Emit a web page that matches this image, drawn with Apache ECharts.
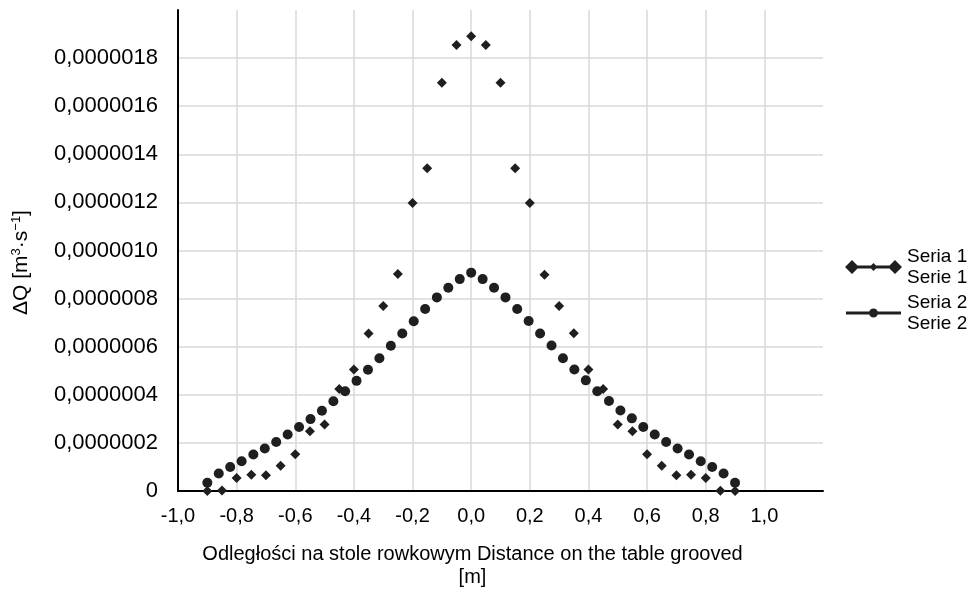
<!DOCTYPE html>
<html>
<head>
<meta charset="utf-8">
<script src="https://cdn.jsdelivr.net/npm/echarts@6/dist/echarts.min.js"></script>
<style>
    html, body { margin: 0; padding: 0; background: #fff; }
    #myCharts { width: 972px; height: 598px; }
</style>
</head>
<body>
<div id="myCharts"></div>
<script>
// Seria 1 / Serie 1 - diamonds
var xSeria1 = [-0.9, -0.85, -0.8, -0.75, -0.7, -0.65, -0.6, -0.55, -0.5, -0.45, -0.4, -0.35, -0.3, -0.25, -0.2, -0.15, -0.1, -0.05, 0,
    0.05, 0.1, 0.15, 0.2, 0.25, 0.3, 0.35, 0.4, 0.45, 0.5, 0.55, 0.6, 0.65, 0.7, 0.75, 0.8, 0.85, 0.9];
var ySeria1 = [0, 0.02e-7, 0.54e-7, 0.68e-7, 0.65e-7, 1.05e-7, 1.53e-7, 2.48e-7, 2.76e-7, 4.24e-7, 5.05e-7, 6.55e-7, 7.69e-7, 9.02e-7, 11.97e-7, 13.42e-7, 16.98e-7, 18.54e-7, 18.91e-7,
    18.54e-7, 16.98e-7, 13.42e-7, 11.97e-7, 8.99e-7, 7.69e-7, 6.56e-7, 5.05e-7, 4.24e-7, 2.76e-7, 2.48e-7, 1.53e-7, 1.05e-7, 0.65e-7, 0.68e-7, 0.54e-7, 0.01e-7, 0];

// Seria 2 / Serie 2 - circles
var xSeria2 = [-0.9, -0.861, -0.822, -0.783, -0.743, -0.704, -0.665, -0.626, -0.587, -0.548, -0.509, -0.47, -0.43, -0.391, -0.352, -0.313, -0.274, -0.235, -0.196, -0.157, -0.117, -0.078, -0.039, 0,
    0.039, 0.078, 0.117, 0.157, 0.196, 0.235, 0.274, 0.313, 0.352, 0.391, 0.43, 0.47, 0.509, 0.548, 0.587, 0.626, 0.665, 0.704, 0.743, 0.783, 0.822, 0.861, 0.9];
var ySeria2 = [0.34e-7, 0.73e-7, 1.0e-7, 1.24e-7, 1.52e-7, 1.77e-7, 2.04e-7, 2.35e-7, 2.66e-7, 2.99e-7, 3.34e-7, 3.73e-7, 4.15e-7, 4.58e-7, 5.04e-7, 5.52e-7, 6.04e-7, 6.55e-7, 7.06e-7, 7.57e-7, 8.05e-7, 8.45e-7, 8.81e-7, 9.08e-7,
    8.81e-7, 8.45e-7, 8.05e-7, 7.57e-7, 7.07e-7, 6.55e-7, 6.05e-7, 5.52e-7, 5.05e-7, 4.6e-7, 4.15e-7, 3.74e-7, 3.35e-7, 3.02e-7, 2.66e-7, 2.35e-7, 2.04e-7, 1.77e-7, 1.52e-7, 1.24e-7, 1.0e-7, 0.73e-7, 0.34e-7];

var seriesNames = ['Seria 1\nSerie 1', 'Seria 2\nSerie 2'];
var xTicks = { min: -1.0, max: 1.2, interval: 0.2 };
var yTicks = { min: 0, max: 0.000002, interval: 0.0000002 };

function pairs(xs, ys) {
    var out = [];
    for (var i = 0; i < xs.length; i++) {
        out.push([xs[i], ys[i]]);
    }
    return out;
}

var font = 'Liberation Sans, Arial, sans-serif';
var ink = '#1f1f1f';

// legend icons: line with diamonds / line with circle
var icon1 = 'path://M0,7 L7,0 L14,7 L7,14 Z M7,5.5 L50,5.5 L50,8.5 L7,8.5 Z M24.5,7 L28.5,3 L32.5,7 L28.5,11 Z M43,7 L50,0 L57,7 L50,14 Z';
var icon2 = 'path://M0,0 L0,0 Z M1,5.5 L56,5.5 L56,8.5 L1,8.5 Z M24,7 A4.5,4.5 0 1,1 33,7 A4.5,4.5 0 1,1 24,7 Z M57,14 L57,14 Z';

var myChart = echarts.init(document.getElementById('myCharts'));
var option = {
    animation: false,
    backgroundColor: '#ffffff',
    textStyle: { fontFamily: font },
    grid: { left: 178, top: 10, right: 149, bottom: 107, containLabel: false },
    legend: {
        orient: 'vertical',
        left: 845,
        top: 246,
        padding: 0,
        itemWidth: 57,
        itemHeight: 14,
        itemGap: 4,
        textStyle: { fontSize: 19, lineHeight: 21, color: '#000', fontFamily: font },
        data: [
            { name: seriesNames[0], icon: icon1 },
            { name: seriesNames[1], icon: icon2 }
        ]
    },
    xAxis: {
        type: 'value',
        min: xTicks.min,
        max: xTicks.max,
        interval: xTicks.interval,
        name: 'Odległości na stole rowkowym Distance on the table grooved\n[m]',
        nameLocation: 'middle',
        nameGap: 52,
        nameMoveOverlap: false,
        nameTextStyle: { fontSize: 20, lineHeight: 23, color: '#000', padding: [0, 56, 0, 0] },
        axisLine: { show: true, onZero: false, lineStyle: { color: '#000', width: 2 } },
        axisTick: { show: false },
        axisLabel: {
            fontSize: 20, color: '#000', margin: 15, showMaxLabel: false,
            formatter: function (v) { return v.toFixed(1).replace('.', ','); }
        },
        splitLine: { show: true, showMaxLine: false, lineStyle: { color: '#d9d9d9', width: 1.5 } }
    },
    yAxis: {
        type: 'value',
        min: yTicks.min,
        max: yTicks.max,
        interval: yTicks.interval,
        name: '{a|ΔQ [m}{s|3}{a|·s}{s|−1}{a|]}',
        nameLocation: 'middle',
        nameRotate: 90,
        nameGap: 146,
        nameTextStyle: {
            color: '#000',
            padding: [0, 24, 0, 0],
            rich: {
                a: { fontSize: 21, lineHeight: 22, color: '#000', fontFamily: font },
                s: { fontSize: 13, lineHeight: 14, color: '#000', fontFamily: font, verticalAlign: 'top' }
            }
        },
        axisLine: { show: true, onZero: false, lineStyle: { color: '#000', width: 2 } },
        axisTick: { show: false },
        axisLabel: {
            fontSize: 22, color: '#000', margin: 20, showMaxLabel: false,
            formatter: function (v) {
                if (v == 0) return '0';
                return v.toFixed(7).replace('.', ',');
            }
        },
        splitLine: { show: true, showMaxLine: false, lineStyle: { color: '#d9d9d9', width: 1.5 } }
    },
    series: [
        {
            name: seriesNames[0], type: 'scatter', symbol: 'diamond', symbolSize: 10,
            itemStyle: { color: ink, opacity: 1 }, data: pairs(xSeria1, ySeria1)
        },
        {
            name: seriesNames[1], type: 'scatter', symbol: 'circle', symbolSize: 10,
            itemStyle: { color: ink, opacity: 1 }, data: pairs(xSeria2, ySeria2)
        }
    ]
};
myChart.setOption(option);
</script>
</body>
</html>
